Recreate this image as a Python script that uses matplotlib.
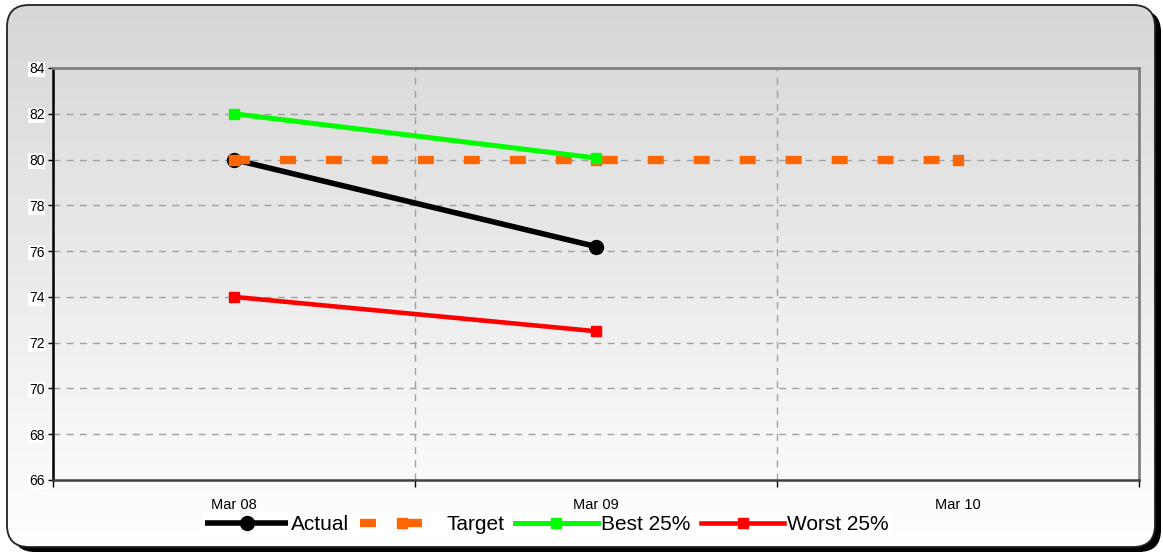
import numpy as np
import matplotlib
matplotlib.use("Agg")
import matplotlib.pyplot as plt
from matplotlib.patches import FancyBboxPatch
from matplotlib.colors import LinearSegmentedColormap

plt.rcParams['font.family'] = ['Liberation Sans', 'DejaVu Sans']
plt.rcParams['lines.scale_dashes'] = False

# ---- data ----
categories = ["Mar 08", "Mar 09", "Mar 10"]
actual = [80.0, 76.2]
target = [80.0, 80.0, 80.0]
best = [82.0, 80.07]
worst = [74.0, 72.5]
yticks = [66, 68, 70, 72, 74, 76, 78, 80, 82, 84]

W, H = 1163, 555
fig = plt.figure(figsize=(W / 100, H / 100), dpi=100)

# ---- background frame with gradient and shadow ----
ax_bg = fig.add_axes([0, 0, 1, 1])
ax_bg.set_xlim(0, W)
ax_bg.set_ylim(H, 0)
ax_bg.axis('off')
ax_bg.set_zorder(0)

bx, by, bw, bh, r = 7, 5, 1148, 542, 22
shadow = FancyBboxPatch((bx + 6, by + 5), bw, bh,
                        boxstyle=f"round,pad=0,rounding_size={r}",
                        fc='black', ec='none', zorder=1)
ax_bg.add_patch(shadow)
main = FancyBboxPatch((bx, by), bw, bh,
                      boxstyle=f"round,pad=0,rounding_size={r}",
                      fc='white', ec='none', zorder=2)
ax_bg.add_patch(main)
cmap = LinearSegmentedColormap.from_list('g', ['#d7d7d7', '#ffffff'])
grad = np.linspace(0, 1, 256).reshape(-1, 1)
im = ax_bg.imshow(grad, extent=[bx, bx + bw, by + bh, by], aspect='auto',
                  cmap=cmap, origin='upper', zorder=3, interpolation='bilinear')
im.set_clip_path(main)
border = FancyBboxPatch((bx, by), bw, bh,
                        boxstyle=f"round,pad=0,rounding_size={r}",
                        fc='none', ec='#222222', lw=1.3, zorder=4)
ax_bg.add_patch(border)

# ---- main axes ----
ax = fig.add_axes([53 / W, 75 / H, 1086 / W, 412 / H])
ax.set_zorder(1)
ax.patch.set_alpha(0)

x_all = np.arange(len(categories))
ax.plot(x_all[:len(actual)], actual, color='black', lw=4, marker='o',
        ms=10, mfc='black', mec='black', label='Actual', zorder=5,
        solid_capstyle='butt')
ax.plot(x_all[:len(target)], target, color='#ff6600', lw=6,
        linestyle=(0, (11.5, 21.6)), dash_capstyle='butt', marker='s',
        ms=7.5, mfc='#ff6600', mec='#ff6600', label='Target', zorder=6)
ax.plot(x_all[:len(best)], best, color='#00ff00', lw=3.6, marker='s',
        ms=7, mfc='#00ff00', mec='#00ff00', label='Best 25%', zorder=7)
ax.plot(x_all[:len(worst)], worst, color='#ff0000', lw=3.3, marker='s',
        ms=6.5, mfc='#ff0000', mec='#ff0000', label='Worst 25%', zorder=7)

ax.set_xlim(-0.5, len(categories) - 0.5)
ax.set_ylim(66, 84)
ax.set_yticks(yticks)
ax.set_yticklabels([str(v) for v in yticks], fontsize=10)
for lab in ax.get_yticklabels():
    lab.set_bbox(dict(facecolor='white', edgecolor='none', pad=0.5))

ax.set_xticks(np.arange(-0.5, len(categories), 1.0))
ax.set_xticklabels([])
ax.set_xticks(x_all, minor=True)
ax.set_xticklabels(categories, minor=True, fontsize=10.5)
ax.tick_params(axis='x', which='major', direction='out', length=5, width=1, color='black')
ax.tick_params(axis='x', which='minor', length=0, pad=13)
ax.tick_params(axis='y', direction='out', length=3.6, width=1, color='black', pad=2.5)

# grid
for yv in yticks[1:-1]:
    ax.axhline(yv, color='#a0a0a0', lw=1, linestyle=(0, (5, 4.5)), zorder=1)
for xv in np.arange(0.5, len(categories) - 1, 1.0):
    ax.axvline(xv, color='#a0a0a0', lw=1, linestyle=(0, (5, 4.5)), zorder=1)

ax.spines['left'].set_color('black')
ax.spines['left'].set_linewidth(1.8)
ax.spines['bottom'].set_color('#404040')
ax.spines['bottom'].set_linewidth(1.8)
ax.spines['top'].set_color('#808080')
ax.spines['top'].set_linewidth(2)
ax.spines['right'].set_color('#808080')
ax.spines['right'].set_linewidth(2)

leg = ax.legend(loc='center', bbox_to_anchor=(547 / W, 30 / H),
                bbox_transform=fig.transFigure, ncol=4, fontsize=15,
                frameon=True, fancybox=False, handlelength=4,
                handletextpad=0.15, columnspacing=0.5, borderpad=0.15,
                borderaxespad=0, numpoints=1)
leg.get_frame().set_facecolor('white')
leg.get_frame().set_edgecolor('none')
leg.get_frame().set_alpha(1)

fig.savefig('out.png', dpi=100)
